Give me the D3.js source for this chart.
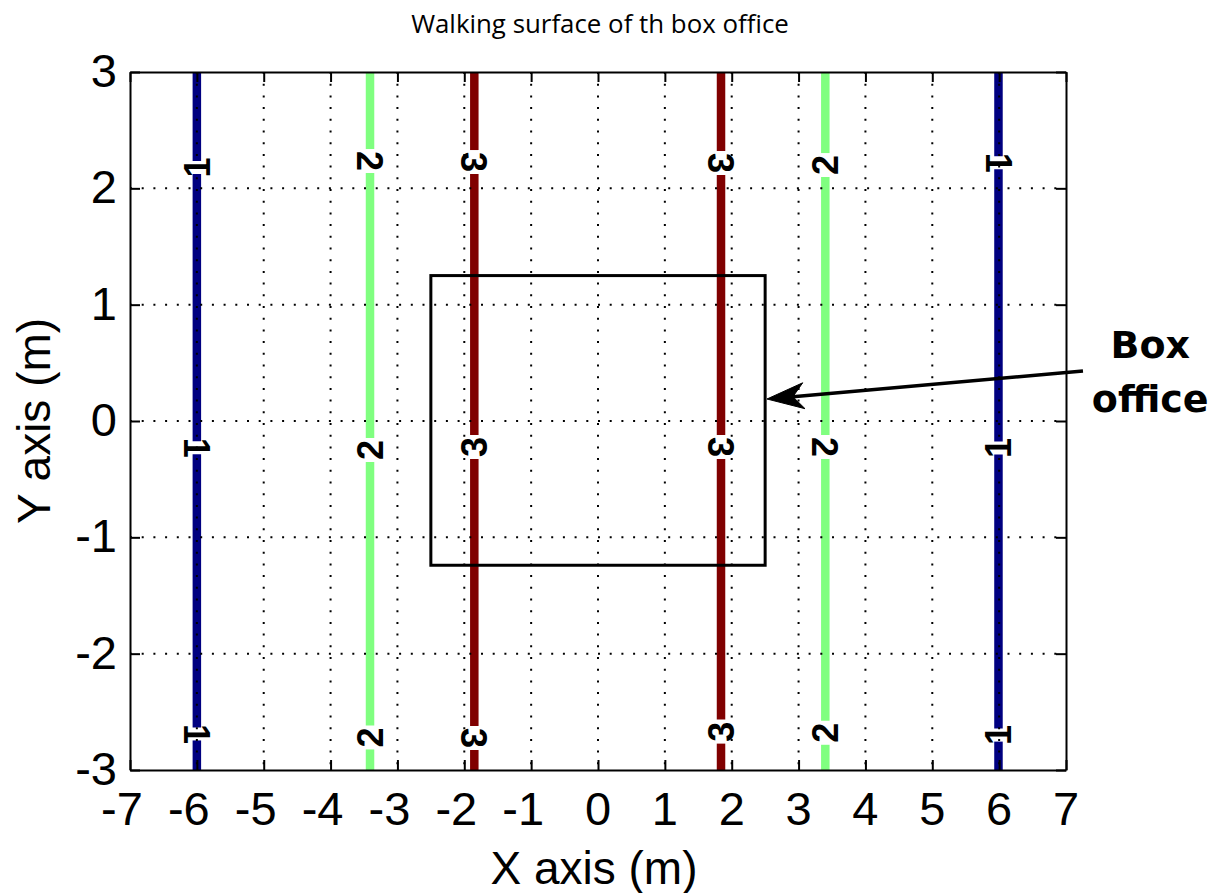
<!DOCTYPE html>
<html>
<head>
<meta charset="utf-8">
<script src="https://cdn.jsdelivr.net/npm/d3@7"></script>
<style>
  html, body { margin: 0; padding: 0; background: #fff; }
  svg { display: block; }
</style>
</head>
<body>
<svg id="chart" width="1222" height="893"></svg>
<script>
// ---------- data ----------
const titleText = "Walking surface of th box office";
const xLabel = "X axis (m)";
const yLabel = "Y axis (m)";
const xTicks = [-7, -6, -5, -4, -3, -2, -1, 0, 1, 2, 3, 4, 5, 6, 7];
const yTicks = [-3, -2, -1, 0, 1, 2, 3];
const xGrid = [-6, -5, -4, -3, -2, -1, 0, 1, 2, 3, 4, 5, 6];
const yGrid = [-2, -1, 0, 1, 2];

// contour lines (vertical iso-lines)
const contourX      = [-6.0, -3.41, -1.85, 1.84, 3.40, 5.99];
const contourLevel  = [1, 2, 3, 3, 2, 1];
const contourLabelY = [
  [2.18, -0.23, -2.69],
  [2.235, -0.25, -2.72],
  [2.226, -0.224, -2.725],
  [2.218, -0.224, -2.67],
  [2.20, -0.224, -2.68],
  [2.22, -0.232, -2.70]
];
const contourLabelRot = [
  [-90, 90, 90],
  [90, -90, -90],
  [90, -90, 90],
  [90, 90, -90],
  [-90, 90, -90],
  [90, -90, -90]
];
const levelColor = {1: "#000080", 2: "#80ff80", 3: "#800000"};

// box office rectangle
const boxX = [-2.5, 2.5];
const boxY = [-1.24, 1.25];

// annotation
const annotText = ["Box", "office"];
const annotTextX = 8.26;
const annotTextY = [0.54, 0.077];
const arrowTail = [7.254, 0.43];
const arrowTip  = [2.528, 0.189];

// ---------- drawing ----------
const svg = d3.select("#chart");
const x = d3.scaleLinear().domain([-7, 7]).range([130, 1066]);
const y = d3.scaleLinear().domain([-3, 3]).range([770, 72]);
const tickFont = "'Liberation Sans', Arial, Helvetica, sans-serif";

// contour lines with gaps at labels
contourX.forEach((cx, i) => {
  const lvl = contourLevel[i];
  const gap = lvl === 1 ? 13 : 24;
  const labelsPx = contourLabelY[i].map(v => y(v)).sort((a, b) => a - b);
  const segs = [];
  let start = y(3);
  labelsPx.forEach(p => { segs.push([start, p - gap / 2]); start = p + gap / 2; });
  segs.push([start, y(-3)]);
  svg.append("g").selectAll("line").data(segs).join("line")
    .attr("x1", x(cx)).attr("x2", x(cx))
    .attr("y1", d => d[0]).attr("y2", d => d[1])
    .attr("stroke", levelColor[lvl])
    .attr("stroke-width", 8.5);
});

// dotted grid
const grid = svg.append("g").attr("stroke", "#000").attr("stroke-width", 2)
  .attr("stroke-dasharray", "2,9.7");
grid.selectAll("line.gx").data(xGrid).join("line").attr("class", "gx")
  .attr("x1", d => x(d)).attr("x2", d => x(d))
  .attr("y1", y(3)).attr("y2", y(-3));
grid.selectAll("line.gy").data(yGrid).join("line").attr("class", "gy")
  .attr("y1", d => y(d)).attr("y2", d => y(d))
  .attr("x1", x(-7)).attr("x2", x(7));

// contour labels
contourX.forEach((cx, i) => {
  const lvl = contourLevel[i];
  contourLabelY[i].forEach((ly, j) => {
    const rot = contourLabelRot[i][j];
    svg.append("text")
      .attr("transform", `translate(${x(cx)},${y(ly)}) rotate(${rot})`)
      .attr("text-anchor", "middle")
      .attr("dy", "0.36em")
      .attr("font-family", tickFont)
      .attr("font-weight", "bold")
      .attr("font-size", 36)
      .attr("fill", "#000")
      .text(String(lvl));
  });
});

// box office rectangle
svg.append("rect")
  .attr("x", x(boxX[0])).attr("y", y(boxY[1]))
  .attr("width", x(boxX[1]) - x(boxX[0]))
  .attr("height", y(boxY[0]) - y(boxY[1]))
  .attr("fill", "none").attr("stroke", "#000").attr("stroke-width", 3);

// axes (frame + inward ticks)
const tickLen = 10;
const axB = svg.append("g").attr("transform", `translate(0,${y(-3)})`)
  .call(d3.axisBottom(x).tickValues(xTicks).tickSizeInner(-tickLen).tickSizeOuter(0).tickFormat(""));
const axT = svg.append("g").attr("transform", `translate(0,${y(3)})`)
  .call(d3.axisTop(x).tickValues(xTicks).tickSizeInner(-tickLen).tickSizeOuter(0).tickFormat(""));
const axL = svg.append("g").attr("transform", `translate(${x(-7)},0)`)
  .call(d3.axisLeft(y).tickValues(yTicks).tickSizeInner(-tickLen).tickSizeOuter(0).tickFormat(""));
const axR = svg.append("g").attr("transform", `translate(${x(7)},0)`)
  .call(d3.axisRight(y).tickValues(yTicks).tickSizeInner(-tickLen).tickSizeOuter(0).tickFormat(""));
[axB, axT, axL, axR].forEach(a => {
  a.selectAll("path.domain").attr("stroke", "#000").attr("stroke-width", 2);
  a.selectAll(".tick line").attr("stroke", "#000").attr("stroke-width", 2);
});

// tick labels
svg.append("g").selectAll("text").data(xTicks).join("text")
  .attr("x", d => x(d)).attr("y", 825)
  .attr("dx", d => d < 0 ? -8 : 0)
  .attr("text-anchor", "middle")
  .attr("font-family", tickFont).attr("font-size", 47).attr("fill", "#000")
  .text(d => d < 0 ? "-" + Math.abs(d) : String(d));
svg.append("g").selectAll("text").data(yTicks).join("text")
  .attr("x", 117).attr("y", d => y(d))
  .attr("dy", "0.32em")
  .attr("text-anchor", "end")
  .attr("font-family", tickFont).attr("font-size", 47).attr("fill", "#000")
  .text(d => d < 0 ? "-" + Math.abs(d) : String(d));

// axis titles
svg.append("text")
  .attr("x", 594).attr("y", 884)
  .attr("text-anchor", "middle")
  .attr("font-family", tickFont).attr("font-size", 46).attr("fill", "#000")
  .text(xLabel);
svg.append("text")
  .attr("transform", `translate(50,421) rotate(-90)`)
  .attr("text-anchor", "middle")
  .attr("font-family", tickFont).attr("font-size", 46).attr("fill", "#000")
  .text(yLabel);

// title
const title = svg.append("text")
  .attr("x", 600).attr("y", 33)
  .attr("text-anchor", "middle")
  .attr("font-family", "'Open Sans', 'Noto Sans', sans-serif")
  .attr("font-size", 22).attr("fill", "#000")
  .text(titleText);
const tw = title.node().getComputedTextLength();
title.attr("font-size", Math.min(26, 22 * 378 / tw));

// annotation text
svg.append("g").selectAll("text").data(annotText).join("text")
  .attr("x", x(annotTextX))
  .attr("y", (d, i) => y(annotTextY[i]))
  .attr("text-anchor", "middle")
  .attr("font-family", "'DejaVu Sans', Verdana, sans-serif")
  .attr("font-weight", "bold")
  .attr("font-size", 38).attr("fill", "#000")
  .text(d => d);

// arrow
const tx = x(arrowTip[0]), ty = y(arrowTip[1]);
const sx = x(arrowTail[0]), sy = y(arrowTail[1]);
const len = Math.hypot(sx - tx, sy - ty);
const ux = (sx - tx) / len, uy = (sy - ty) / len;
const nx = -uy, ny = ux;
const notch = [tx + 26 * ux, ty + 26 * uy];
svg.append("line")
  .attr("x1", sx).attr("y1", sy).attr("x2", notch[0]).attr("y2", notch[1])
  .attr("stroke", "#000").attr("stroke-width", 3.5);
const head = [
  [tx, ty],
  [tx + 37 * ux + 13 * nx, ty + 37 * uy + 13 * ny],
  notch,
  [tx + 37 * ux - 13 * nx, ty + 37 * uy - 13 * ny]
];
svg.append("path")
  .attr("d", d3.line()(head) + "Z")
  .attr("fill", "#000").attr("stroke", "#000").attr("stroke-width", 1)
  .attr("stroke-linejoin", "miter");
</script>
</body>
</html>
